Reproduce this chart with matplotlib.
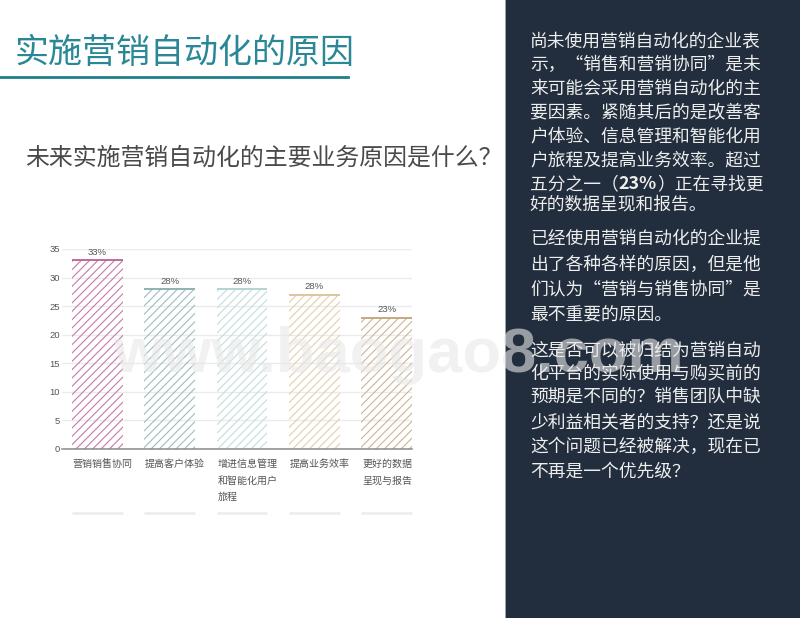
import matplotlib
matplotlib.use("Agg")
import matplotlib.pyplot as plt
from matplotlib.patches import Rectangle
from matplotlib.transforms import blended_transform_factory
import numpy as np

plt.rcParams['font.family'] = ['Noto Sans CJK SC', 'DejaVu Sans']
plt.rcParams['hatch.linewidth'] = 0.8

# ---------------- data ----------------
categories = ["营销销售协同", "提高客户体验", "增进信息管理\n和智能化用户\n旅程", "提高业务效率", "更好的数据\n呈现与报告"]
values = [33, 28, 28, 27, 23]
value_labels = ["33%", "28%", "28%", "28%", "23%"]
yticks = [0, 5, 10, 15, 20, 25, 30, 35]
bar_colors = ["#c57aa8", "#9dbdbd", "#c3dcdd", "#e2cfae", "#cdb595"]
top_colors = ["#c06a9e", "#8fb2b1", "#b5d3d4", "#dcc6a0", "#c4a983"]

title = "实施营销自动化的原因"
subtitle = "未来实施营销自动化的主要业务原因是什么？"
panel_lines = [
    "尚未使用营销自动化的企业表",
    "示，“销售和营销协同”是未",
    "来可能会采用营销自动化的主",
    "要因素。紧随其后的是改善客",
    "户体验、信息管理和智能化用",
    "户旅程及提高业务效率。超过",
    ["五分之一（", "23%", "）正在寻找更"],
    "好的数据呈现和报告。",
    "已经使用营销自动化的企业提",
    "出了各种各样的原因，但是他",
    "们认为“营销与销售协同”是",
    "最不重要的原因。",
    "这是否可以被归结为营销自动",
    "化平台的实际使用与购买前的",
    "预期是不同的？销售团队中缺",
    "少利益相关者的支持？还是说",
    "这个问题已经被解决，现在已",
    "不再是一个优先级？",
]
panel_line_y = [42, 65, 89, 113, 137, 161, 184, 204,
                239, 265, 290, 315,
                350, 373, 397, 422, 447, 472]

W, H = 800, 618
fig = plt.figure(figsize=(8, 6.18), dpi=100)
fig.patch.set_facecolor("white")
renderer = fig.canvas.get_renderer()

def fx(px):
    return px / W

def fy(py):
    return 1 - py / H

# right panel
fig.patches.append(Rectangle((fx(506), 0), 1 - fx(506), 1, transform=fig.transFigure,
                             facecolor="#222e3d", edgecolor="none", zorder=0))
fig.patches.append(Rectangle((fx(505), 0), fx(1.5), 1, transform=fig.transFigure,
                             facecolor="#9aa3ad", edgecolor="none", zorder=0))

# title + underline
fig.text(fx(15), fy(53), title, fontsize=24.5, color="#2a8796", ha="left", va="center")
fig.lines.append(plt.Line2D([0, fx(348)], [fy(77), fy(77)], transform=fig.transFigure,
                            color="#1f7f8d", lw=2.0))
fig.text(fx(25), fy(158), subtitle, fontsize=17.2, color="#4a4a4a", ha="left", va="center")

# panel text
for s, y in zip(panel_lines, panel_line_y):
    if isinstance(s, list):
        xpx = 530
        for k, part in enumerate(s):
            t = fig.text(fx(xpx), fy(y), part, fontsize=12.8, color="#eeeeee",
                         ha="left", va="center",
                         fontweight="bold" if k == 1 else "normal")
            bb = t.get_window_extent(renderer=renderer)
            xpx += bb.width
    else:
        fig.text(fx(530), fy(y), s, fontsize=12.8, color="#eeeeee", ha="left", va="center")

# ---------------- chart ----------------
ax = fig.add_axes([fx(62), fy(449), fx(412) - fx(62), (449 - 249) / H])
x = np.arange(len(categories))
width = 0.70
ax.bar(x, values, width=width, facecolor="none", edgecolor=bar_colors,
       linewidth=0, hatch="////", zorder=2)
ax.hlines(values, x - width / 2, x + width / 2, colors=top_colors, lw=1.4, zorder=3)

for xi, v, lab in zip(x, values, value_labels):
    ax.annotate(lab, (xi, v), xytext=(0, 2.5), textcoords="offset points",
                ha="center", va="bottom", fontsize=6.8, color="#555555",
                family=["Liberation Sans", "DejaVu Sans"])

ax.set_xlim(-0.49, 4.35)
ax.set_ylim(0, 35)
ax.set_yticks(yticks)
ax.set_yticklabels([str(t) for t in yticks], fontsize=6.8, color="#555555",
                   family=["Liberation Sans", "DejaVu Sans"])
ax.tick_params(axis="y", length=0, pad=1.5)
ax.set_xticks([])
ax.yaxis.grid(True, color="#ebebeb", lw=1.0, zorder=0)
ax.set_axisbelow(True)
for side in ["top", "right", "left"]:
    ax.spines[side].set_visible(False)
ax.spines["bottom"].set_color("#8a8a8a")
ax.spines["bottom"].set_linewidth(1.1)
ax.spines["bottom"].set_zorder(4)

trans = blended_transform_factory(ax.transData, ax.transAxes)
for xi, cat in zip(x, categories):
    ax.annotate(cat, (xi - width / 2, 0), xycoords=trans, xytext=(0.5, -7),
                textcoords="offset points", ha="left", va="top", fontsize=7.2,
                color="#555555", linespacing=1.85, annotation_clip=False)
    ax.plot([xi - width / 2, xi + width / 2], [-64 / 200, -64 / 200], transform=trans,
            color="#eeeeee", lw=2.0, clip_on=False, solid_capstyle="butt")

# watermark
fig.text(fx(113), fy(372), "www.baogao8.com", fontsize=45.5, fontweight="bold",
         family=["Liberation Sans", "DejaVu Sans"], color="#e8e8e8", alpha=0.6,
         ha="left", va="baseline", zorder=10)

fig.savefig("out.png", dpi=100)
